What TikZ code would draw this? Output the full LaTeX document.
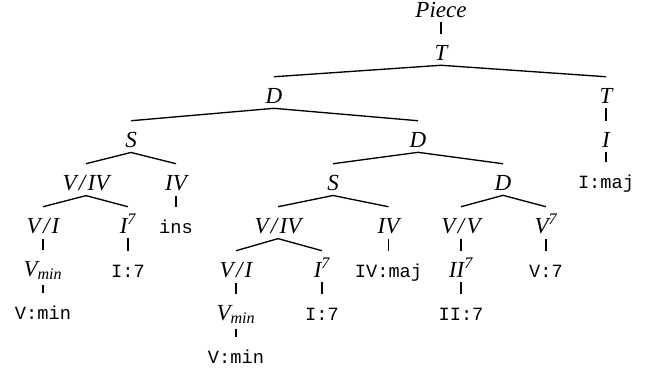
\documentclass[tikz,border=0pt]{standalone}
\usepackage{amsmath}
\usepackage{fontspec}
\setmainfont{Liberation Serif}
\setmonofont{Liberation Mono}
\newcommand\mysl{\kern.1em/\kern.1em}
\newcommand\mysup[1]{$^{\textit{#1}}$}
\newcommand\mysub[1]{$_{\textit{#1}}$}
\tikzset{
  nt/.style={anchor=base, inner xsep=1pt, inner ysep=3.75pt, text height=15.75pt,
    font=\fontsize{17.25}{20}\selectfont\itshape},
  lf/.style={nt, font=\fontsize{14}{16}\selectfont\ttfamily},
  br/.style={line width=1pt}
}
\begin{document}
\begin{tikzpicture}[x=0.75pt,y=-0.75pt]
\useasboundingbox (0,0) rectangle (652,372);
% level 0-3
\node[nt] (piece) at (441,17) {Piece};
\node[nt] (t1) at (441,60) {T};
\node[nt] (d2) at (274,103) {D};
\node[nt] (t2) at (606,103) {T};
\node[nt] (s3) at (131,147) {S};
\node[nt] (d3) at (418,147) {D};
\node[nt] (i3) at (606,147) {I};
% level 4
\node[nt] (via) at (86,190) {V\mysl IV};
\node[nt] (iv4) at (176,190) {IV};
\node[nt] (s4) at (333,190) {S};
\node[nt] (d4) at (503,190) {D};
\node[lf] (imaj) at (606,188) {I:maj};
% level 5
\node[nt] (vi5) at (43,233) {V\mysl I};
\node[nt] (i7a) at (128,233) {I\mysup{7}};
\node[lf] (ins) at (176,233) {ins};
\node[nt] (viv5) at (278,233) {V\mysl IV};
\node[nt] (iv5) at (388.5,233) {IV};
\node[nt] (vv) at (461,233) {V\mysl V};
\node[nt] (v7) at (546,233) {V\mysup{7}};
% level 6
\node[nt] (vmin1) at (43,276) {V\mysub{min}};
\node[lf] (i7l) at (128,277) {I:7};
\node[nt] (vi6) at (236,277) {V\mysl I};
\node[nt] (i7b) at (322,277) {I\mysup{7}};
\node[lf] (ivmaj) at (388.5,277) {IV:maj};
\node[nt] (ii7) at (461,277) {II\mysup{7}};
\node[lf] (v7l) at (546,277) {V:7};
% level 7
\node[lf] (vminl1) at (43,319) {V:min};
\node[nt] (vmin2) at (236,320) {V\mysub{min}};
\node[lf] (i7l2) at (322,320) {I:7};
\node[lf] (ii7l) at (461,320) {II:7};
% level 8
\node[lf] (vminl2) at (236,363) {V:min};
% edges
\foreach \p/\c in {piece/t1, t1/d2, t1/t2, d2/s3, d2/d3, t2/i3, i3/imaj,
  s3/via, s3/iv4, d3/s4, d3/d4, via/vi5, via/i7a, iv4/ins, s4/viv5, s4/iv5,
  d4/vv, d4/v7, vi5/vmin1, i7a/i7l, viv5/vi6, viv5/i7b, iv5/ivmaj, vv/ii7,
  v7/v7l, vmin1/vminl1, vi6/vmin2, i7b/i7l2, ii7/ii7l, vmin2/vminl2}
  \draw[br] (\p.south) -- (\c.north);
\end{tikzpicture}
\end{document}
